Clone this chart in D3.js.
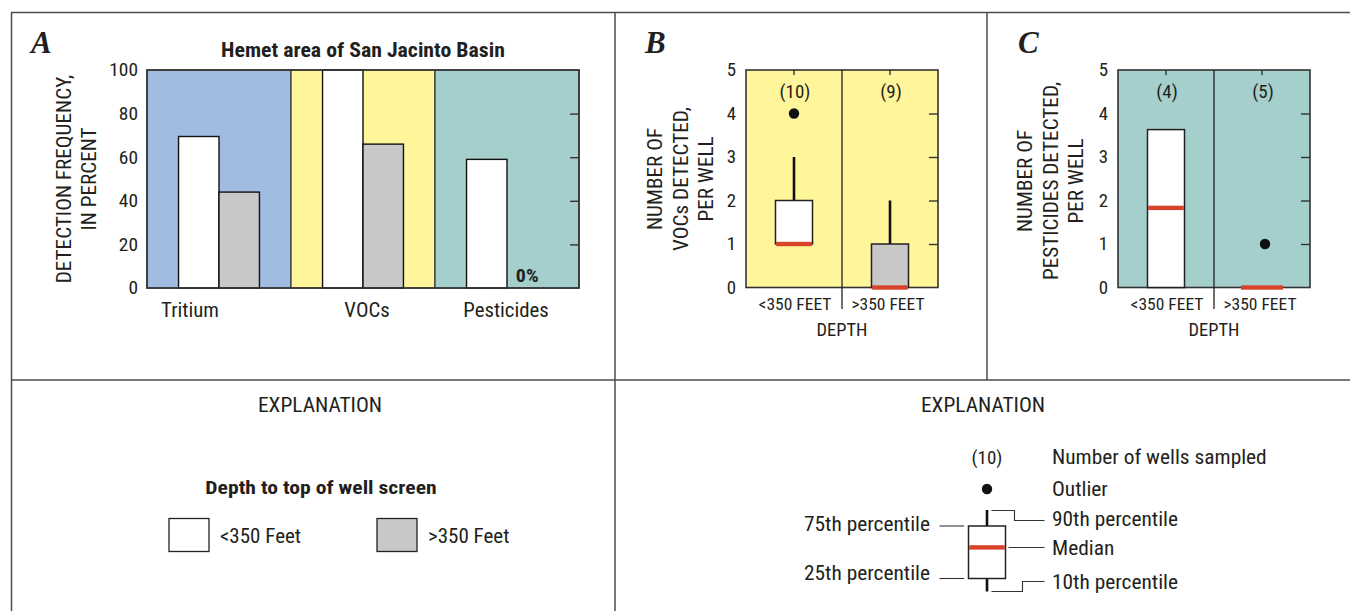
<!DOCTYPE html>
<html>
<head>
<meta charset="utf-8">
<script src="https://cdn.jsdelivr.net/npm/d3@7"></script>
<style>
  html, body { margin: 0; padding: 0; background: #fff; }
  svg { display: block; }
  text { fill: #231f20; }
</style>
</head>
<body>
<svg id="fig" width="1350" height="611"></svg>
<script>
// Detection frequency (percent) by constituent class and depth to top of well screen
const constituents = ["Tritium", "VOCs", "Pesticides"];
const depthClasses = ["<350 Feet", ">350 Feet"];
const depthAxisLabels = ["<350 FEET", ">350 FEET"];
const freqShallow = [69.5, 100, 59];
const freqDeep = [44, 66, 0];
const percentTicks = [0, 20, 40, 60, 80, 100];

// Number of VOCs detected per well (percentile summaries)
const vocWells = [10, 9];
const vocP10 = [1, 0];
const vocP25 = [1, 0];
const vocMedian = [1, 0];
const vocP75 = [2, 1];
const vocP90 = [3, 2];
const vocOutliers = [[4], []];

// Number of pesticides detected per well
const pestWells = [4, 5];
const pestP10 = [0, 0];
const pestP25 = [0, 0];
const pestMedian = [1.83, 0];
const pestP75 = [3.63, 0];
const pestP90 = [3.63, 0];
const pestOutliers = [[], [1]];

const countTicks = [0, 1, 2, 3, 4, 5];

const NARROW = "'Liberation Sans Narrow', 'Arial Narrow', 'Roboto Condensed', sans-serif";
const SERIF = "'Liberation Serif', 'DejaVu Serif', serif";
const INK = "#231f20";
const FRAME = "#4d4d4d";
const C_BLUE = "#a0bde1";
const C_YELLOW = "#fff59b";
const C_TEAL = "#a4cfcd";
const C_GRAY = "#c8c8c8";
const C_RED = "#d8432c";

const svg = d3.select("#fig");

// widen narrow-font text horizontally around its anchor point
function stretch(sel, sx) {
  sel.each(function () {
    const t = d3.select(this);
    const x = +t.attr("x") || 0, y = +t.attr("y") || 0;
    const tr = t.attr("transform") || "";
    t.attr("x", 0).attr("y", 0)
      .attr("transform", `translate(${x},${y}) ${tr} scale(${sx},1)`);
  });
  return sel;
}

// ---- figure frame ----
const frame = svg.append("g").attr("stroke", FRAME).attr("stroke-width", 1.5).attr("fill", "none");
frame.append("line").attr("x1", 11).attr("x2", 1350).attr("y1", 12.5).attr("y2", 12.5);
frame.append("line").attr("x1", 11.5).attr("x2", 11.5).attr("y1", 12).attr("y2", 611);
frame.append("line").attr("x1", 11).attr("x2", 1350).attr("y1", 380).attr("y2", 380);
frame.append("line").attr("x1", 615).attr("x2", 615).attr("y1", 12).attr("y2", 611);
frame.append("line").attr("x1", 987).attr("x2", 987).attr("y1", 12).attr("y2", 380);

function panelLetter(x, letter) {
  svg.append("text").attr("x", x).attr("y", 53)
    .attr("font-family", SERIF).attr("font-style", "italic").attr("font-weight", "bold")
    .attr("font-size", 31).text(letter);
}

function yTitle(lines, xs, cy) {
  lines.forEach((t, i) => {
    const el = svg.append("text")
      .attr("transform", `translate(${xs[i]},${cy}) rotate(-90)`)
      .attr("text-anchor", "middle").attr("dy", "0.35em")
      .attr("font-family", NARROW).attr("font-size", 20).text(t);
    stretch(el, 1.06);
  });
}

// ================= Panel A: grouped bars =================
panelLetter(31, "A");
const ax = d3.scaleBand().domain(constituents).range([147, 579]);
const aSub = d3.scaleBand().domain(depthClasses).range([0, ax.bandwidth()])
  .paddingInner(0).paddingOuter(0.78);
const ay = d3.scaleLinear().domain([0, 100]).range([288, 70]);
const bandFill = [C_BLUE, C_YELLOW, C_TEAL];

const gA = svg.append("g");
gA.selectAll("rect.band").data(constituents).join("rect")
  .attr("class", "band")
  .attr("x", d => ax(d)).attr("y", ay(100))
  .attr("width", ax.bandwidth()).attr("height", ay(0) - ay(100))
  .attr("fill", (d, i) => bandFill[i])
  .attr("stroke", "#333").attr("stroke-width", 1.2);

const barRows = constituents.flatMap((c, i) => [
  { c, depth: depthClasses[0], v: freqShallow[i], fill: "#fff" },
  { c, depth: depthClasses[1], v: freqDeep[i], fill: C_GRAY }
]);
gA.selectAll("rect.bar").data(barRows.filter(d => d.v > 0)).join("rect")
  .attr("class", "bar")
  .attr("x", d => ax(d.c) + aSub(d.depth))
  .attr("y", d => ay(d.v))
  .attr("width", aSub.bandwidth())
  .attr("height", d => ay(0) - ay(d.v))
  .attr("fill", d => d.fill).attr("stroke", "#111").attr("stroke-width", 1.4);

// "0%" note for the empty bar
barRows.filter(d => d.v === 0).forEach(d => {
  const el = gA.append("text")
    .attr("x", ax(d.c) + aSub(d.depth) + aSub.bandwidth() / 2)
    .attr("y", ay(0) - 6)
    .attr("text-anchor", "middle")
    .attr("font-family", NARROW).attr("font-weight", "bold").attr("font-size", 19)
    .text("0%");
  stretch(el, 1.05);
});

// plot outline
gA.append("rect").attr("x", 147).attr("y", ay(100)).attr("width", 432).attr("height", ay(0) - ay(100))
  .attr("fill", "none").attr("stroke", "#333").attr("stroke-width", 1.6);

// left tick labels
const aLeft = d3.axisLeft(ay).tickValues(percentTicks).tickSize(0).tickPadding(9);
gA.append("g").attr("transform", "translate(147,0)").call(aLeft)
  .call(g => g.select(".domain").remove())
  .call(g => stretch(g.selectAll("text").attr("font-family", NARROW).attr("font-size", 18.5).attr("fill", INK), 1.05));
// inward ticks on the right edge
const aRight = d3.axisLeft(ay).tickValues(percentTicks.slice(1, -1)).tickSize(9).tickFormat("");
gA.append("g").attr("transform", "translate(579,0)").call(aRight)
  .call(g => g.select(".domain").remove())
  .call(g => g.selectAll("line").attr("stroke", "#333").attr("stroke-width", 1.4));

// category labels
const labelShift = { Tritium: -29, VOCs: 4, Pesticides: -1 };
stretch(gA.selectAll("text.cat").data(constituents).join("text")
  .attr("class", "cat")
  .attr("x", d => ax(d) + ax.bandwidth() / 2 + labelShift[d])
  .attr("y", 316.5)
  .attr("text-anchor", "middle")
  .attr("font-family", NARROW).attr("font-size", 20).text(d => d), 1.04);

stretch(svg.append("text").attr("x", 363).attr("y", 57).attr("text-anchor", "middle")
  .attr("font-family", NARROW).attr("font-weight", "bold").attr("font-size", 20)
  .text("Hemet area of San Jacinto Basin"), 1.09);

yTitle(["DETECTION FREQUENCY,", "IN PERCENT"], [64, 89], 179);

// ================= Panels B and C: box plots =================
function boxPanel(opt) {
  const g = svg.append("g");
  const x = d3.scaleBand().domain(depthClasses).range([opt.x0, opt.x1]);
  const y = d3.scaleLinear().domain([0, 5]).range([287.5, 70]);
  const bw = 37;
  const mid = (opt.x0 + opt.x1) / 2;

  g.append("rect").attr("x", opt.x0).attr("y", y(5)).attr("width", opt.x1 - opt.x0)
    .attr("height", y(0) - y(5)).attr("fill", opt.fill)
    .attr("stroke", "#333").attr("stroke-width", 1.6);
  g.append("line").attr("x1", mid).attr("x2", mid).attr("y1", y(5)).attr("y2", 309)
    .attr("stroke", "#222").attr("stroke-width", 1.3);

  const stats = depthClasses.map((d, i) => ({
    d, n: opt.n[i], p10: opt.p10[i], q1: opt.q1[i], med: opt.med[i],
    q3: opt.q3[i], p90: opt.p90[i], out: opt.out[i], fill: i === 0 ? "#fff" : C_GRAY
  }));
  const cxOf = s => x(s.d) + x.bandwidth() / 2;

  // whiskers
  stats.forEach(s => {
    if (s.p90 > s.q3) g.append("line").attr("x1", cxOf(s)).attr("x2", cxOf(s))
      .attr("y1", y(s.q3)).attr("y2", y(s.p90)).attr("stroke", "#111").attr("stroke-width", 2.6);
    if (s.p10 < s.q1) g.append("line").attr("x1", cxOf(s)).attr("x2", cxOf(s))
      .attr("y1", y(s.q1)).attr("y2", y(s.p10)).attr("stroke", "#111").attr("stroke-width", 2.6);
  });
  // boxes
  g.selectAll("rect.box").data(stats.filter(s => s.q3 > s.q1)).join("rect")
    .attr("class", "box")
    .attr("x", s => cxOf(s) - bw / 2)
    .attr("y", s => y(s.q3))
    .attr("width", bw).attr("height", s => y(s.q1) - y(s.q3))
    .attr("fill", s => s.fill).attr("stroke", "#222").attr("stroke-width", 1.5);
  // medians
  g.selectAll("rect.med").data(stats).join("rect")
    .attr("class", "med")
    .attr("x", s => s.q3 > s.q1 ? cxOf(s) - bw / 2 + 0.7 : cxOf(s) - 21)
    .attr("y", s => y(s.med) - 2.2)
    .attr("width", s => s.q3 > s.q1 ? bw - 1.4 : 42)
    .attr("height", 4.4)
    .attr("fill", C_RED);
  // outliers
  stats.forEach(s => s.out.forEach(o => {
    g.append("circle").attr("cx", cxOf(s) + (opt.outShift || 0))
      .attr("cy", y(o)).attr("r", 5.2).attr("fill", "#111");
  }));
  // sample counts
  g.selectAll("text.n").data(stats).join("text")
    .attr("class", "n")
    .attr("x", s => cxOf(s) + 1)
    .attr("y", y(4.5)).attr("dy", "0.35em")
    .attr("text-anchor", "middle")
    .attr("font-family", NARROW).attr("font-size", 19).attr("fill", "#3a3a3a")
    .text(s => `(${s.n})`);

  // y tick labels
  g.append("g").attr("transform", `translate(${opt.x0},0)`)
    .call(d3.axisLeft(y).tickValues(countTicks).tickSize(0).tickPadding(10).tickFormat(d3.format("d")))
    .call(a => a.select(".domain").remove())
    .call(a => stretch(a.selectAll("text").attr("font-family", NARROW).attr("font-size", 18).attr("fill", INK), 1.05));
  // inward ticks, right edge
  g.append("g").attr("transform", `translate(${opt.x1},0)`)
    .call(d3.axisLeft(y).tickValues(countTicks.slice(1, -1)).tickSize(9).tickFormat(""))
    .call(a => a.select(".domain").remove())
    .call(a => a.selectAll("line").attr("stroke", "#333").attr("stroke-width", 1.4));
  // short ticks on the top edge at each depth class
  g.append("g").attr("transform", `translate(0,${y(5)})`)
    .call(d3.axisTop(x).tickSize(-5).tickFormat(""))
    .call(a => a.select(".domain").remove())
    .call(a => a.selectAll("line").attr("stroke", "#333").attr("stroke-width", 1.4));

  // depth class labels
  stretch(g.selectAll("text.dep").data(depthClasses).join("text")
    .attr("class", "dep")
    .attr("x", (d, i) => x(d) + x.bandwidth() / 2 + (i === 0 ? 1 : -2))
    .attr("y", 310)
    .attr("text-anchor", "middle")
    .attr("font-family", NARROW).attr("font-size", 17).text((d, i) => depthAxisLabels[i]), 1.03);
  stretch(g.append("text").attr("x", mid).attr("y", 336).attr("text-anchor", "middle")
    .attr("font-family", NARROW).attr("font-size", 17.5).text("DEPTH"), 1.05);
}

panelLetter(645, "B");
boxPanel({
  x0: 746, x1: 938, fill: C_YELLOW,
  n: vocWells, p10: vocP10, q1: vocP25, med: vocMedian, q3: vocP75, p90: vocP90, out: vocOutliers
});
yTitle(["NUMBER OF", "VOCs DETECTED,", "PER WELL"], [655, 681, 706], 179);

panelLetter(1018, "C");
boxPanel({
  x0: 1118, x1: 1310, fill: C_TEAL, outShift: 3,
  n: pestWells, p10: pestP10, q1: pestP25, med: pestMedian, q3: pestP75, p90: pestP90, out: pestOutliers
});
yTitle(["NUMBER OF", "PESTICIDES DETECTED,", "PER WELL"], [1025, 1051, 1076], 181);

// ================= Explanations =================
function explTitle(x) {
  stretch(svg.append("text").attr("x", x).attr("y", 411.5).attr("text-anchor", "middle")
    .attr("font-family", NARROW).attr("font-size", 20).text("EXPLANATION"), 1.07);
}
explTitle(320);
stretch(svg.append("text").attr("x", 321).attr("y", 494).attr("text-anchor", "middle")
  .attr("font-family", NARROW).attr("font-weight", "bold").attr("font-size", 18.5)
  .text("Depth to top of well screen"), 1.17);
const legendItems = [
  { label: depthClasses[0], fill: "#fff", x: 169 },
  { label: depthClasses[1], fill: C_GRAY, x: 377 }
];
legendItems.forEach(it => {
  svg.append("rect").attr("x", it.x).attr("y", 518.5).attr("width", 40).attr("height", 33)
    .attr("fill", it.fill).attr("stroke", "#222").attr("stroke-width", 1.3);
  stretch(svg.append("text").attr("x", it.x + 51).attr("y", 536).attr("dy", "0.35em")
    .attr("font-family", NARROW).attr("font-size", 20).text(it.label), 1.05);
});

// box-plot key
explTitle(983);
const key = svg.append("g");
const kx = 987;
const kLab = (x, y, t, anchor) => stretch(key.append("text").attr("x", x).attr("y", y).attr("dy", "0.35em")
  .attr("text-anchor", anchor || "start").attr("font-family", NARROW).attr("font-size", 20).text(t), 1.07);
key.append("text").attr("x", kx).attr("y", 457).attr("dy", "0.35em").attr("text-anchor", "middle")
  .attr("font-family", NARROW).attr("font-size", 19).attr("fill", "#3a3a3a").text("(10)");
key.append("circle").attr("cx", kx).attr("cy", 489).attr("r", 5.2).attr("fill", "#111");
key.append("line").attr("x1", kx).attr("x2", kx).attr("y1", 510).attr("y2", 526).attr("stroke", "#111").attr("stroke-width", 2.6);
key.append("line").attr("x1", kx).attr("x2", kx).attr("y1", 578).attr("y2", 591.5).attr("stroke", "#111").attr("stroke-width", 2.6);
key.append("rect").attr("x", 968.5).attr("y", 526).attr("width", 37).attr("height", 52.5)
  .attr("fill", "#fff").attr("stroke", "#222").attr("stroke-width", 1.5);
key.append("rect").attr("x", 969.2).attr("y", 545.2).attr("width", 35.6).attr("height", 4.4).attr("fill", C_RED);

const leader = key.append("g").attr("stroke", "#333").attr("stroke-width", 1.1).attr("fill", "none");
leader.append("path").attr("d", "M991.5,510.5H1014.5V520.5H1044.5");
leader.append("path").attr("d", "M991.5,591.5H1022.5V581.5H1044.5");
leader.append("path").attr("d", "M1008.5,547.5H1044.5");
leader.append("path").attr("d", "M939.5,526H964");
leader.append("path").attr("d", "M939.5,578.5H964");

kLab(1052, 457, "Number of wells sampled");
kLab(1052, 489, "Outlier");
kLab(1052, 519, "90th percentile");
kLab(1052, 548, "Median");
kLab(1052, 582, "10th percentile");
kLab(930, 524, "75th percentile", "end");
kLab(930, 573, "25th percentile", "end");
</script>
</body>
</html>
